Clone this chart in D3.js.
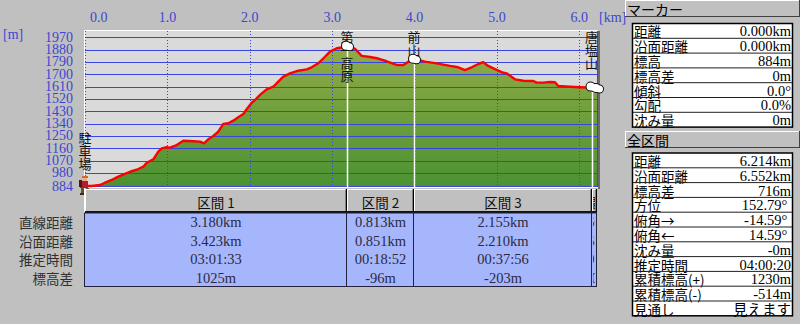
<!DOCTYPE html>
<html lang="ja">
<head>
<meta charset="UTF-8">
<title>elevation profile</title>
<script src="https://d3js.org/d3.v7.min.js"></script>
<style>
  body { margin: 0; background: #c0c0c0; }
  svg { display: block; }
</style>
</head>
<body>
<svg width="800" height="324"></svg>
<script>
// profile (km / m)
const distKm = [0, 0.08, 0.182, 0.243, 0.324, 0.404, 0.485, 0.546, 0.647, 0.708, 0.749, 0.829, 0.890, 0.931, 0.992,
  1.032, 1.113, 1.193, 1.314, 1.396, 1.444, 1.496, 1.557, 1.618, 1.678, 1.739, 1.800, 1.860, 1.921, 1.962,
  2.023, 2.063, 2.124, 2.205, 2.285, 2.346, 2.407, 2.488, 2.589, 2.691, 2.751, 2.831, 2.913, 2.973,
  3.055, 3.135, 3.180, 3.277, 3.358, 3.459, 3.559, 3.661, 3.783, 3.863, 3.924, 3.993,
  4.126, 4.268, 4.430, 4.530, 4.612, 4.693, 4.773, 4.834, 4.894, 4.976, 5.057, 5.117, 5.218, 5.319,
  5.441, 5.482, 5.562, 5.643, 5.704, 5.744, 5.886, 6.007, 6.088, 6.148, 6.214];
const elevM = [884, 884, 891, 908, 928, 952, 972, 988, 1008, 1025, 1054, 1079, 1135, 1159, 1167,
  1164, 1183, 1215, 1211, 1208, 1196, 1225, 1249, 1281, 1337, 1342, 1361, 1386, 1410, 1444,
  1492, 1512, 1549, 1590, 1609, 1646, 1683, 1707, 1726, 1736, 1751, 1780, 1828, 1865,
  1890, 1897, 1909, 1885, 1834, 1826, 1815, 1795, 1768, 1768, 1792, 1813,
  1792, 1780, 1761, 1751, 1731, 1751, 1775, 1788, 1761, 1737, 1715, 1707, 1663, 1653,
  1651, 1639, 1639, 1644, 1642, 1614, 1609, 1605, 1603, 1610, 1600];

const xTicks = [0, 1, 2, 3, 4, 5, 6];
const yTicks = [884, 980, 1070, 1160, 1250, 1340, 1430, 1520, 1610, 1700, 1790, 1880, 1970];

const markerNames = ['駐車場', '第一高原', '前山', '唐塩山'];
const markerKm = [0, 3.18, 3.993, 6.148];
const markerElev = [884, 1909, 1813, 1610];
const endKm = 6.214, endElev = 1600;

// section table
const sectionNames = ['区間 1', '区間 2', '区間 3', '区間 4'];
const sectionStart = [0, 3.18, 3.993, 6.148];
const sectionEnd = [3.18, 3.993, 6.148, 6.214];
const rowLabels = ['直線距離', '沿面距離', '推定時間', '標高差'];
const straightDist = ['3.180km', '0.813km', '2.155km', '0.066km'];
const surfaceDist = ['3.423km', '0.851km', '2.210km', '0.068km'];
const estTime = ['03:01:33', '00:18:52', '00:37:56', '00:01:59'];
const elevDiff = ['1025m', '-96m', '-203m', '-10m'];

// right panel
const markerInfoLabels = ['距離', '沿面距離', '標高', '標高差', '傾斜', '勾配', '沈み量'];
const markerInfoValues = ['0.000km', '0.000km', '884m', '0m', '0.0°', '0.0%', '0m'];
const totalLabels = ['距離', '沿面距離', '標高差', '方位', '俯角→', '俯角←', '沈み量', '推定時間', '累積標高(+)', '累積標高(-)', '見通し'];
const totalValues = ['6.214km', '6.552km', '716m', '152.79°\u00a0', '-14.59°\u00a0', '14.59°\u00a0', '-0m', '04:00:20', '1230m', '-514m', '見えます'];

const svg = d3.select('svg');
const jp = '"Noto Sans CJK JP", sans-serif';
const num = '"Liberation Serif", "DejaVu Serif", serif';
const blue = '#3a44e0';

const x = d3.scaleLinear().domain([0, 6.214]).range([85, 597]);
const y = d3.scaleLinear().domain([884, 1970]).range([186, 37.3]);

const defs = svg.append('defs');
const grad = defs.append('linearGradient').attr('id', 'g').attr('gradientUnits', 'userSpaceOnUse')
  .attr('x1', 0).attr('x2', 0).attr('y1', 40).attr('y2', 186);
grad.append('stop').attr('offset', 0).attr('stop-color', '#95ac48');
grad.append('stop').attr('offset', 1).attr('stop-color', '#4b9233');

// plot frame
svg.append('rect').attr('x', 85).attr('y', 31).attr('width', 512).attr('height', 155).attr('fill', '#dadada');
svg.append('line').attr('x1', 84).attr('x2', 598).attr('y1', 30.5).attr('y2', 30.5).attr('stroke', '#fff');
svg.append('line').attr('x1', 84.5).attr('x2', 84.5).attr('y1', 30).attr('y2', 213).attr('stroke', '#fff');
svg.append('rect').attr('x', 598).attr('y', 31).attr('width', 2).attr('height', 158).attr('fill', '#6a6a6a');

const pts = distKm.map((d, i) => [d, elevM[i]]);
svg.append('path')
  .attr('d', d3.area().x(d => x(d[0])).y0(y(884)).y1(d => y(d[1]))(pts))
  .attr('fill', 'url(#g)');

// grid
svg.append('g').selectAll('line').data(yTicks).join('line')
  .attr('x1', 85).attr('x2', 597)
  .attr('y1', d => Math.round(y(d)) + 0.5).attr('y2', d => Math.round(y(d)) + 0.5)
  .attr('stroke', blue);
svg.append('g').selectAll('line').data(xTicks).join('line')
  .attr('x1', d => Math.round(x(d)) + 0.5).attr('x2', d => Math.round(x(d)) + 0.5)
  .attr('y1', 31).attr('y2', 186)
  .attr('stroke', blue).attr('stroke-dasharray', '1,2');
svg.append('line').attr('x1', 597.5).attr('x2', 597.5).attr('y1', 31).attr('y2', 187).attr('stroke', blue);
svg.append('line').attr('x1', 85).attr('x2', 598).attr('y1', 187.5).attr('y2', 187.5).attr('stroke', '#fff');

// axis labels
svg.append('g').selectAll('text').data(yTicks).join('text')
  .attr('x', 73).attr('y', d => y(d)).attr('text-anchor', 'end').attr('dominant-baseline', 'central')
  .attr('font-family', num).attr('font-size', 14).attr('fill', '#3c46d0').text(d => d);
svg.append('g').selectAll('text').data(xTicks).join('text')
  .attr('x', d => d === 0 ? x(d) + 5 : x(d)).attr('y', 17)
  .attr('text-anchor', d => d === 0 ? 'start' : 'middle').attr('dominant-baseline', 'central')
  .attr('font-family', num).attr('font-size', 14).attr('fill', '#3c46d0').text(d => d.toFixed(1));
svg.append('text').attr('x', 3).attr('y', 34).attr('dominant-baseline', 'central')
  .attr('font-family', num).attr('font-size', 14).attr('fill', '#3c46d0').text('[m]');
svg.append('text').attr('x', 599).attr('y', 17).attr('dominant-baseline', 'central')
  .attr('font-family', num).attr('font-size', 14).attr('fill', '#3c46d0').text('[km]');

// marker verticals
svg.append('g').selectAll('line').data(markerKm.slice(1)).join('line')
  .attr('x1', d => Math.round(x(d)) + 0.5).attr('x2', d => Math.round(x(d)) + 0.5)
  .attr('y1', (d, i) => y(markerElev[i + 1])).attr('y2', 187)
  .attr('stroke', '#fff').attr('stroke-width', 1.5);

// profile line
svg.append('path')
  .attr('d', d3.line().x(d => x(d[0])).y(d => y(d[1]))(pts))
  .attr('fill', 'none').attr('stroke', '#ff0000').attr('stroke-width', 2.4).attr('stroke-linejoin', 'round');

// labels (vertical text)
svg.append('g').selectAll('text').data(markerNames).join('text')
  .attr('x', (d, i) => x(markerKm[i]))
  .attr('y', (d, i) => i === 0 ? y(markerElev[0]) - 54 : 31)
  .style('writing-mode', 'vertical-rl')
  .attr('font-family', jp).attr('font-size', 13).attr('fill', '#111').text(d => d);

// marker blobs
const blobs = markerKm.slice(1).map((d, i) => [d, markerElev[i + 1]]).concat([[endKm, endElev]]);
const bg = svg.append('g');
blobs.forEach(b => {
  const cx = x(b[0]), cy = y(b[1]);
  [[-1, 0, 4], [2.5, 1, 3.5]].forEach(c => bg.append('circle').attr('cx', cx + c[0]).attr('cy', cy + c[1]).attr('r', c[2])
    .attr('fill', '#111').attr('stroke', '#111').attr('stroke-width', 2));
});
blobs.forEach(b => {
  const cx = x(b[0]), cy = y(b[1]);
  [[-1, 0, 4], [2.5, 1, 3.5]].forEach(c => bg.append('circle').attr('cx', cx + c[0]).attr('cy', cy + c[1]).attr('r', c[2]).attr('fill', '#fff'));
});

// hiker at start
const h = svg.append('g').attr('transform', `translate(${x(0)},${y(884)})`);
[[-3, -10, 6, 2, '#d86a20'], [-2, -8, 4, 3, '#e8b080'], [-5, -5, 8, 7, '#b01c30'], [-6, -6, 3, 7, '#5a1010'],
 [-4, 2, 3, 6, '#6b5030'], [1, 2, 3, 6, '#6b5030'], [-5, 7, 4, 2, '#3a2a1a'], [1, 7, 4, 2, '#3a2a1a']]
  .forEach(r => h.append('rect').attr('x', r[0]).attr('y', r[1]).attr('width', r[2]).attr('height', r[3]).attr('fill', r[4]));

// section table
svg.append('g').selectAll('text').data(rowLabels).join('text')
  .attr('x', 73).attr('y', (d, i) => 213 + 18.5 * (i + 0.5)).attr('text-anchor', 'end').attr('dominant-baseline', 'central')
  .attr('font-family', jp).attr('font-size', 13.5).attr('fill', '#303030').text(d => d);

const rows = [straightDist, surfaceDist, estTime, elevDiff];
sectionNames.forEach((name, i) => {
  const x0 = Math.round(x(sectionStart[i])), x1 = Math.round(x(sectionEnd[i]));
  const cid = 'c' + i;
  defs.append('clipPath').attr('id', cid).append('rect').attr('x', x0 + 1).attr('y', 189).attr('width', Math.max(x1 - x0 - 3, 1)).attr('height', 98);
  const g = svg.append('g');
  g.append('rect').attr('x', x0).attr('y', 189).attr('width', x1 - x0).attr('height', 24).attr('fill', '#c0c0c0');
  g.append('line').attr('x1', x0).attr('x2', x1 - 2).attr('y1', 189.5).attr('y2', 189.5).attr('stroke', '#fff');
  g.append('line').attr('x1', x0 + 0.5).attr('x2', x0 + 0.5).attr('y1', 189).attr('y2', 212).attr('stroke', '#fff');
  g.append('line').attr('x1', x1 - 1.5).attr('x2', x1 - 1.5).attr('y1', 190).attr('y2', 212).attr('stroke', '#808080');
  g.append('line').attr('x1', x1 - 0.5).attr('x2', x1 - 0.5).attr('y1', 189).attr('y2', 212).attr('stroke', '#000');
  g.append('rect').attr('x', x0).attr('y', 211).attr('width', x1 - x0).attr('height', 2).attr('fill', '#111');
  g.append('rect').attr('x', x0 - 0.5).attr('y', 213).attr('width', x1 - x0).attr('height', 73.5)
    .attr('fill', '#a6b6fc').attr('stroke', '#22223c');
  const t = g.append('g').attr('clip-path', `url(#${cid})`);
  t.append('text').attr('x', (x0 + x1) / 2).attr('y', 201.5).attr('text-anchor', 'middle').attr('dominant-baseline', 'central')
    .attr('font-family', jp).attr('font-size', 13.5).attr('fill', '#111').text(name);
  rows.forEach((r, k) => t.append('text').attr('x', (x0 + x1) / 2).attr('y', 213 + 18.5 * (k + 0.5))
    .attr('text-anchor', 'middle').attr('dominant-baseline', 'central')
    .attr('font-family', num).attr('font-size', 14.5).attr('fill', '#2a2a40').text(r[i]));
});

// right panel
function header(y0, label) {
  svg.append('rect').attr('x', 625).attr('y', y0).attr('width', 175).attr('height', 17).attr('fill', '#c0c0c0');
  svg.append('line').attr('x1', 625).attr('x2', 799).attr('y1', y0 + 0.5).attr('y2', y0 + 0.5).attr('stroke', '#fff');
  svg.append('line').attr('x1', 625.5).attr('x2', 625.5).attr('y1', y0).attr('y2', y0 + 17).attr('stroke', '#fff');
  svg.append('line').attr('x1', 625).attr('x2', 800).attr('y1', y0 + 16.5).attr('y2', y0 + 16.5).attr('stroke', '#404040');
  svg.append('line').attr('x1', 799.5).attr('x2', 799.5).attr('y1', y0).attr('y2', y0 + 17).attr('stroke', '#404040');
  svg.append('text').attr('x', 627).attr('y', y0 + 8.5).attr('dominant-baseline', 'central')
    .attr('font-family', jp).attr('font-size', 14).attr('fill', '#000').text(label);
}
function infoTable(y0, labels, values) {
  const rh = 14.8;
  const g = svg.append('g');
  g.append('rect').attr('x', 632.5).attr('y', y0 + 0.5).attr('width', 160).attr('height', rh * labels.length)
    .attr('fill', '#fff').attr('stroke', '#000').attr('stroke-width', 1.5);
  labels.forEach((l, i) => {
    if (i > 0) g.append('line').attr('x1', 633).attr('x2', 792).attr('y1', y0 + rh * i + 0.5).attr('y2', y0 + rh * i + 0.5).attr('stroke', '#202020');
    g.append('text').attr('x', 634).attr('y', y0 + rh * (i + 0.5) + 1).attr('dominant-baseline', 'central')
      .attr('font-family', jp).attr('font-size', 13.5).attr('fill', '#000').text(l);
    const v = values[i];
    g.append('text').attr('x', 791).attr('y', y0 + rh * (i + 0.5) + 1).attr('text-anchor', 'end').attr('dominant-baseline', 'central')
      .attr('font-family', /[\u3040-\u30ff]/.test(v) ? jp : num).attr('font-size', 14.5).attr('fill', '#000').text(v);
  });
}
header(0, 'マーカー');
infoTable(23, markerInfoLabels, markerInfoValues);
header(131, '全区間');
infoTable(152.5, totalLabels, totalValues);
</script>
</body>
</html>
